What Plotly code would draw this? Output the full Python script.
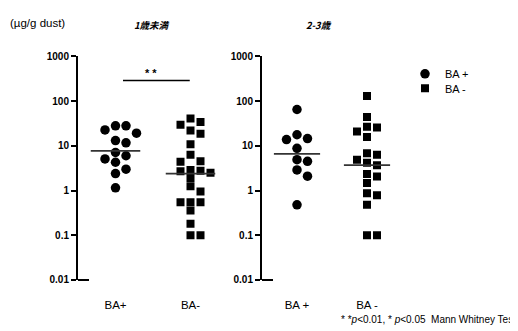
import numpy as np
import plotly.graph_objects as go

# ---------------- data ----------------
groups = ["BA+", "BA-"]
groups_right_text = ["BA +", "BA -"]
tick_vals = [0.01, 0.1, 1, 10, 100, 1000]
tick_text = ["0.01", "0.1", "1", "10", "100", "1000"]

under1_ba_pos = [28, 28, 19.2, 22.7, 13.1, 11.7, 7.1, 6.0, 5.1, 4.3, 3.0, 2.4, 1.15]
under1_ba_neg = [41, 29.5, 34, 21.9, 18.6, 10.9, 6.3, 4.5, 4.4, 2.76, 2.9, 2.7, 2.5,
                 1.9, 1.25, 0.95, 0.55, 0.55, 0.55, 0.36, 0.18, 0.1, 0.1]
age23_ba_pos = [65, 13.8, 17.7, 14.5, 8.8, 4.5, 4.9, 2.9, 2.1, 0.48]
age23_ba_neg = [130, 44, 26.7, 21, 25.8, 15.7, 6.3, 6.8, 4.9, 4.2, 3.7, 2.35, 2.05,
                1.48, 0.79, 0.87, 0.48, 0.1, 0.1]
medians_under1 = [7.7, 2.4]
medians_age23 = [6.6, 3.7]
sig_level = 290

# ---------------- layout helpers ----------------
W, H = 518, 331
OFF = 8  # the page body has an 8px margin; positions below are page pixels
FONT = "Liberation Sans, Arial, sans-serif"
CJK = "Noto Sans CJK JP, sans-serif"
PX_PER_DECADE = 46.4


def px(x):
    return (x - OFF) / W


def py(y):
    return 1 - (y - OFF) / H


def swarm(values, pos, unit_px, slot_px, diam_px):
    """GraphPad-like scatter spreading: returns x positions in category units."""
    vals = np.asarray(values, dtype=float)
    ys = np.log10(vals) * PX_PER_DECADE
    order = np.argsort(-vals, kind="stable")
    cands = [0, 1, -1, 0.5, -0.5, 2, -2, 1.5, -1.5]
    placed = []
    offs = np.zeros(len(vals))
    for i in order:
        chosen = cands[-1]
        for c in cands:
            x = c * slot_px
            if all(not (abs(x - qx) < slot_px * 0.9 and abs(ys[i] - qy) < diam_px)
                   for qx, qy in placed):
                chosen = c
                break
        placed.append((chosen * slot_px, ys[i]))
        offs[i] = chosen * slot_px
    return pos + offs / unit_px


fig = go.Figure()

panels = [
    dict(xa="x", ya="y", unit=75, pos_vals=under1_ba_pos, neg_vals=under1_ba_neg,
         med=medians_under1, legend=True),
    dict(xa="x2", ya="y2", unit=70, pos_vals=age23_ba_pos, neg_vals=age23_ba_neg,
         med=medians_age23, legend=False),
]

for p in panels:
    xs_pos = swarm(p["pos_vals"], 0, p["unit"], 10.5, 8.5)
    xs_neg = swarm(p["neg_vals"], 1, p["unit"], 10, 7.5)
    fig.add_trace(go.Scatter(
        x=xs_pos, y=p["pos_vals"], mode="markers", xaxis=p["xa"], yaxis=p["ya"],
        marker=dict(symbol="circle", size=9.5, color="black"),
        name="BA +", showlegend=p["legend"], legend="legend"))
    fig.add_trace(go.Scatter(
        x=xs_neg, y=p["neg_vals"], mode="markers", xaxis=p["xa"], yaxis=p["ya"],
        marker=dict(symbol="square", size=8, color="black"),
        name="BA -", showlegend=p["legend"], legend="legend2"))
    for k, m in enumerate(p["med"]):
        fig.add_trace(go.Scatter(
            x=[k - 0.33, k + 0.33], y=[m, m], mode="lines", xaxis=p["xa"], yaxis=p["ya"],
            line=dict(color="#333333", width=1.8), showlegend=False, hoverinfo="skip"))

# significance bar in the left panel
fig.add_trace(go.Scatter(x=[0.1, 0.99], y=[sig_level, sig_level], mode="lines",
                         xaxis="x", yaxis="y", line=dict(color="black", width=1.5),
                         showlegend=False, hoverinfo="skip"))

yax = dict(type="log", range=[-2, 3], domain=[py(284), py(52)],
           tickmode="array", tickvals=tick_vals, ticktext=tick_text,
           showline=True, linewidth=2, linecolor="black",
           ticks="outside", ticklen=5, tickwidth=2, tickcolor="black",
           showgrid=False, zeroline=False,
           tickfont=dict(family=FONT, size=10, color="black", weight="bold"))

xax_common = dict(range=[-0.5, 1.5], tickmode="array", tickvals=[0, 1],
                  showline=False, ticks="", showgrid=False, zeroline=False,
                  ticklabelstandoff=17,
                  tickfont=dict(family=FONT, size=11.5, color="black"))

leg_common = dict(xanchor="left", yanchor="top", itemwidth=30,
                  font=dict(family=FONT, size=11, color="black"),
                  bgcolor="rgba(0,0,0,0)")

fig.update_layout(
    width=W, height=H, margin=dict(l=0, r=0, t=0, b=0), autosize=False,
    paper_bgcolor="white", plot_bgcolor="white",
    xaxis=dict(domain=[px(78), px(228)], ticktext=groups, anchor="y", **xax_common),
    xaxis2=dict(domain=[px(262), px(402)], ticktext=groups_right_text, anchor="y2",
                **xax_common),
    yaxis=dict(anchor="x", **yax),
    yaxis2=dict(anchor="x2", **yax),
    legend=dict(x=px(405), y=py(55), **leg_common),
    legend2=dict(x=px(405), y=py(70), **leg_common),
    showlegend=True,
)

# short stubs at the 0.01 end of each y axis
for x0 in (78, 262):
    fig.add_shape(type="line", xref="paper", yref="paper",
                  x0=px(x0), x1=px(x0 + 11), y0=py(284), y1=py(284),
                  line=dict(color="black", width=2))

ann = [
    dict(text="(µg/g dust)", x=px(8), y=py(17), xanchor="left",
         font=dict(family=FONT, size=11.5, color="black")),
    dict(text="<b><i>1歳未満</i></b>", x=px(152), y=py(19), xanchor="center",
         font=dict(family=CJK, size=9.5, color="black")),
    dict(text="<b><i>2-3歳</i></b>", x=px(319), y=py(19), xanchor="center",
         font=dict(family=CJK, size=9.5, color="black")),
    dict(text="<b>* *</b>", x=px(151), y=py(69), xanchor="center",
         font=dict(family=FONT, size=11, color="black")),
    dict(text="* *<i>p</i>&lt;0.01, * <i>p</i>&lt;0.05  Mann Whitney Test",
         x=px(339), y=py(325), xanchor="left",
         font=dict(family=FONT, size=10, color="black")),
]
for a in ann:
    fig.add_annotation(xref="paper", yref="paper", showarrow=False, yanchor="middle", **a)

fig.write_html("out.html")
